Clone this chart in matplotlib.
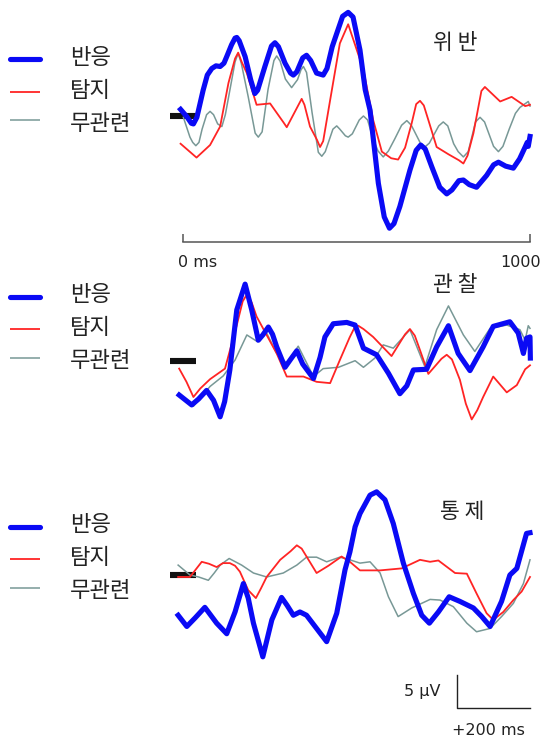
import numpy as np
import matplotlib
matplotlib.use("Agg")
import matplotlib.pyplot as plt
from matplotlib.lines import Line2D

plt.rcParams['font.family'] = ['Noto Sans CJK KR', 'DejaVu Sans']

# %% data (ms, µV)

labels = ["반응", "탐지", "무관련"]
titles = ["위 반", "관 찰", "통 제"]

# panel 1 : 위반
t_resp_1 = [-7, 11, 24, 30, 40, 58, 70, 83, 95, 107, 118, 126, 140, 150, 155, 162, 179, 195, 207, 215, 236, 255, 265, 275,
            294, 310, 318, 328, 345, 356, 368, 385, 404, 415, 430, 443, 460, 476, 490, 510, 525, 539, 563, 580, 595, 608,
            625, 654, 672, 685, 698, 717, 740, 760, 775, 795, 808, 825, 846, 875, 895, 909, 930, 952, 970, 986, 992, 995, 1000]
v_resp_1 = [1.0, -0.1, -1.1, -1.2, -0.2, 3.9, 6.2, 7.2, 7.6, 7.5, 8.0, 9.0, 10.8, 11.8, 11.9, 11.4, 9.0, 5.5, 3.4, 3.9, 7.5,
            10.6, 11.1, 10.5, 8.0, 6.5, 6.2, 6.7, 8.8, 9.2, 8.4, 6.5, 6.2, 7.2, 10.5, 12.5, 15.1, 15.7, 15.0, 10.0, 4.0, 0.9,
            -10.2, -15.3, -17.0, -16.3, -13.7, -8.2, -5.2, -4.4, -5.0, -7.7, -10.8, -11.8, -11.2, -9.8, -9.7, -10.4, -10.8,
            -9.0, -7.4, -7.0, -7.6, -7.9, -6.5, -4.7, -4.0, -4.6, -3.1]

t_det_1 = [-7, 39, 78, 107, 131, 150, 159, 169, 184, 212, 251, 290, 299, 308, 333, 342, 350, 366, 386, 395, 404, 424, 452,
           476, 520, 548, 573, 600, 620, 640, 659, 672, 683, 694, 707, 731, 765, 795, 808, 820, 837, 860, 870, 882, 914,
           947, 986, 1000]
v_det_1 = [-4.2, -6.3, -4.4, -1.6, 5.0, 8.7, 9.6, 8.2, 6.5, 1.7, 1.9, -1.0, -1.7, -0.8, 1.7, 2.6, 1.7, -1.6, -3.6, -4.7,
           -3.8, 2.4, 11.0, 13.9, 7.0, -0.6, -5.4, -6.4, -6.6, -4.8, -1.1, 1.8, 2.3, 1.6, -0.6, -4.7, -5.8, -6.7, -7.2,
           -6.0, -2.6, 3.8, 4.4, 3.8, 2.2, 2.9, 1.5, 1.7]

t_irr_1 = [1, 20, 28, 37, 46, 55, 68, 78, 88, 100, 112, 122, 135, 150, 159, 168, 188, 208, 217, 228, 245, 262, 270, 280,
           295, 313, 330, 340, 347, 356, 372, 390, 400, 410, 432, 443, 452, 468, 476, 488, 508, 520, 532, 548, 562, 577,
           592, 610, 630, 645, 658, 684, 697, 710, 737, 750, 763, 780, 793, 808, 822, 843, 856, 869, 895, 909, 922, 940,
           958, 971, 995, 1000]
v_irr_1 = [-0.2, -3.2, -4.0, -4.5, -4.0, -2.0, 0.2, 0.7, 0.2, -1.2, -1.6, 0.2, 3.9, 8.2, 9.5, 8.0, 2.9, -2.6, -3.2, -2.4,
           4.0, 8.4, 9.1, 8.3, 5.6, 4.3, 5.5, 7.0, 7.5, 6.6, 0.5, -5.5, -6.1, -5.4, -2.0, -1.5, -2.0, -3.0, -3.2, -2.7,
           -0.6, 0.0, -0.6, -3.5, -5.3, -6.2, -5.3, -3.5, -1.4, -0.7, -1.4, -4.1, -4.7, -4.1, -1.5, -0.9, -1.5, -4.2, -5.4,
           -6.2, -5.4, -0.9, -0.2, -0.9, -4.6, -5.4, -4.6, -2.0, 0.4, 1.3, 2.2, 1.5]

# panel 2 : 관찰
t_resp_2 = [-11, 25, 45, 68, 88, 107, 120, 135, 155, 179, 198, 217, 230, 246, 258, 270, 294, 310, 328, 345, 376, 395, 409,
            433, 472, 496, 520, 558, 592, 625, 645, 664, 702, 731, 765, 793, 827, 865, 894, 942, 966, 981, 990, 1000, 1001]
v_resp_2 = [-5.2, -6.7, -5.8, -4.5, -6.0, -8.5, -6.2, -1.4, 7.7, 11.6, 7.7, 3.1, 3.9, 5.1, 4.0, 2.1, -1.0, 0.2, 1.5, -0.5,
            -2.7, 0.5, 3.6, 5.6, 5.8, 5.4, 1.9, 0.9, -1.9, -5.0, -3.8, -1.4, -1.3, 2.1, 5.3, 1.1, -1.5, 2.1, 5.2, 5.9, 4.2,
            1.1, 3.4, 3.6, 0.4]

t_det_2 = [-11, 10, 30, 50, 78, 121, 155, 172, 185, 198, 212, 241, 270, 299, 347, 385, 424, 452, 480, 496, 505, 520, 548,
           601, 640, 654, 668, 683, 707, 745, 760, 775, 798, 815, 832, 848, 865, 894, 933, 962, 986, 1000]
v_det_2 = [-1.2, -3.2, -5.5, -4.2, -2.8, -1.2, 5.4, 9.0, 10.1, 8.8, 6.7, 3.9, 1.1, -2.4, -2.4, -3.2, -3.4, 0.1, 3.5, 5.2,
           5.3, 4.8, 3.6, 0.7, 4.0, 4.8, 3.8, 1.6, -2.0, 0.3, 0.9, 0.2, -2.9, -6.5, -8.9, -7.5, -5.5, -2.4, -4.8, -3.7,
           -1.3, -0.7]

t_irr_2 = [-11, 30, 78, 116, 150, 184, 214, 241, 270, 299, 332, 376, 404, 448, 496, 520, 553, 577, 606, 654, 697, 731,
           765, 808, 841, 885, 933, 971, 986, 995, 1000]
v_irr_2 = [-5.0, -6.9, -3.9, -2.3, 0.1, 3.9, 2.9, 4.2, 1.1, -0.4, 2.2, -2.4, -1.2, -1.0, 0.0, -1.0, 0.4, 2.4, 1.9, 4.7,
           -0.9, 4.7, 8.3, 3.9, 1.4, 4.9, 5.4, 4.7, 3.1, 5.3, 4.9]

# panel 3 : 통제
t_resp_3 = [-14, 11, 35, 63, 97, 126, 150, 174, 188, 203, 230, 256, 284, 300, 318, 337, 356, 385, 414, 443, 467, 481, 496,
            510, 539, 558, 582, 606, 635, 664, 688, 710, 736, 767, 798, 837, 861, 885, 918, 942, 962, 990, 1000]
v_resp_3 = [-6.1, -7.8, -6.5, -4.9, -7.3, -8.9, -5.6, -1.3, -3.5, -7.3, -12.4, -6.8, -3.4, -4.6, -6.1, -5.6, -6.1, -8.1,
            -10.1, -5.8, 0.8, 3.5, 7.3, 9.3, 12.1, 12.6, 11.4, 7.8, 1.8, -2.8, -6.1, -7.3, -5.6, -3.3, -4.0, -5.0, -6.3,
            -7.8, -4.0, 0.0, 1.0, 6.3, 6.4]

t_det_3 = [-14, 20, 54, 75, 97, 115, 135, 150, 164, 188, 210, 225, 241, 280, 310, 328, 342, 356, 385, 419, 457, 481, 510,
           568, 630, 683, 712, 736, 784, 818, 846, 875, 894, 923, 952, 976, 1000]
v_det_3 = [-0.3, -0.3, 2.0, 1.7, 1.2, 1.8, 1.8, 1.4, 0.5, -2.3, -3.5, -2.0, -0.3, 2.3, 3.6, 4.5, 4.0, 2.8, 0.3, 1.4, 2.8,
           2.0, 0.7, 0.7, 1.0, 2.3, 2.0, 2.2, 0.3, 0.2, -2.8, -5.8, -6.8, -5.6, -3.8, -2.5, -0.3]

t_irr_3 = [-14, 20, 45, 73, 90, 107, 133, 169, 203, 241, 289, 328, 356, 385, 414, 452, 481, 510, 539, 568, 592, 620, 659,
           712, 741, 779, 818, 846, 885, 918, 952, 981, 1000]
v_irr_3 = [1.5, 0.0, -0.3, -0.8, 0.3, 1.5, 2.5, 1.5, 0.3, -0.3, 0.3, 1.5, 2.7, 2.7, 2.0, 2.7, 2.3, 1.8, 2.0, 0.3, -3.3,
           -6.3, -5.0, -3.7, -3.8, -4.8, -7.3, -8.6, -8.1, -6.3, -4.3, -1.3, 2.3]

scale_uv = 5
scale_ms = 200

# %% layout (pixels of the 542x740 picture)

W, H = 542, 740
px_per_ms = 347 / 1000
px_per_uv = 6.6
x0_px = 183

fig = plt.figure(figsize=(W / 100, H / 100), dpi=100)

def add_panel(top, bottom, base):
    left, right = 160, 540
    ax = fig.add_axes([left / W, 1 - bottom / H, (right - left) / W, (bottom - top) / H])
    ax.set_xlim((left - x0_px) / px_per_ms, (right - x0_px) / px_per_ms)
    ax.set_ylim((base - bottom) / px_per_uv, (base - top) / px_per_uv)
    ax.axis("off")
    return ax

ax1 = add_panel(0, 242, 116)
ax2 = add_panel(270, 440, 360.7)
ax3 = add_panel(470, 740, 575)

colors = ["#0a0af5", "#ff2424", "#789896"]
widths = [3.7, 1.3, 1.1]

series = [
    (ax1, [(t_resp_1, v_resp_1), (t_det_1, v_det_1), (t_irr_1, v_irr_1)]),
    (ax2, [(t_resp_2, v_resp_2), (t_det_2, v_det_2), (t_irr_2, v_irr_2)]),
    (ax3, [(t_resp_3, v_resp_3), (t_det_3, v_det_3), (t_irr_3, v_irr_3)]),
]

for ax, curves in series:
    ax.plot([-37, 37], [0, 0], color="#111111", linewidth=4.4, solid_capstyle="butt", zorder=1)
    for (t, v), c, lw, z in zip(curves[::-1], colors[::-1], widths[::-1], [2, 3, 4]):
        ax.plot(t, v, color=c, linewidth=lw, solid_joinstyle="round", clip_on=False, zorder=z)

# time bracket under the first panel
ax1.axis("on")
for s in ["top", "left", "right"]:
    ax1.spines[s].set_visible(False)
ax1.spines["bottom"].set_bounds(0, 1000)
ax1.spines["bottom"].set_color("#555555")
ax1.spines["bottom"].set_linewidth(1.1)
ax1.set_yticks([])
ax1.set_xticks([0, 1000])
ax1.tick_params(axis="x", direction="in", length=5.8, width=1.1, color="#555555", labelbottom=False)
ax1.patch.set_visible(False)
tr = ax1.get_xaxis_transform()
ax1.text(-14, -0.085, "0 ms", transform=tr, ha="left", va="center", fontsize=11.5, family="DejaVu Sans", color="#222222")
ax1.text(915, -0.085, "1000", transform=tr, ha="left", va="center", fontsize=11.5, family="DejaVu Sans", color="#222222")

# scale bar
sx = 1000 - 210
sy = -20.15
ax3.plot([sx, sx, 1000], [sy + scale_uv, sy, sy], color="#222222", linewidth=1.0, clip_on=False)
ax3.text(sx - 49, sy + 2.55, f"{scale_uv} µV", ha="right", va="center", fontsize=11.5, family="DejaVu Sans", color="#222222")
ax3.text(sx - 16, sy - 3.35, f"+{scale_ms} ms", ha="left", va="center", fontsize=11.5, family="DejaVu Sans", color="#222222")

# legends and titles
def fig_xy(x, y):
    return x / W, 1 - y / H

leg_rows = [59.3, 296.7, 526.7]
row_dy = [0, 32.5, 61]
text_dy = [-2, -1.5, 3]
leg_lw = [3.7, 1.3, 1.1]
for y0 in leg_rows:
    for i in range(3):
        y = y0 + row_dy[i]
        xa, ya = fig_xy(10, y)
        xb, _ = fig_xy(40, y)
        fig.add_artist(Line2D([xa, xb], [ya, ya], color=colors[i], linewidth=leg_lw[i],
                              solid_capstyle="round" if i == 0 else "butt"))
        fig.text(*fig_xy(70, y + text_dy[i]), labels[i], ha="left", va="center", fontsize=16, color="#222222")

title_pos = [(455, 43.3), (455, 285), (462, 511.7)]
for (x, y), s in zip(title_pos, titles):
    fig.text(*fig_xy(x, y), s, ha="center", va="center", fontsize=15.5, color="#222222")

plt.savefig("out.png", dpi=100)
